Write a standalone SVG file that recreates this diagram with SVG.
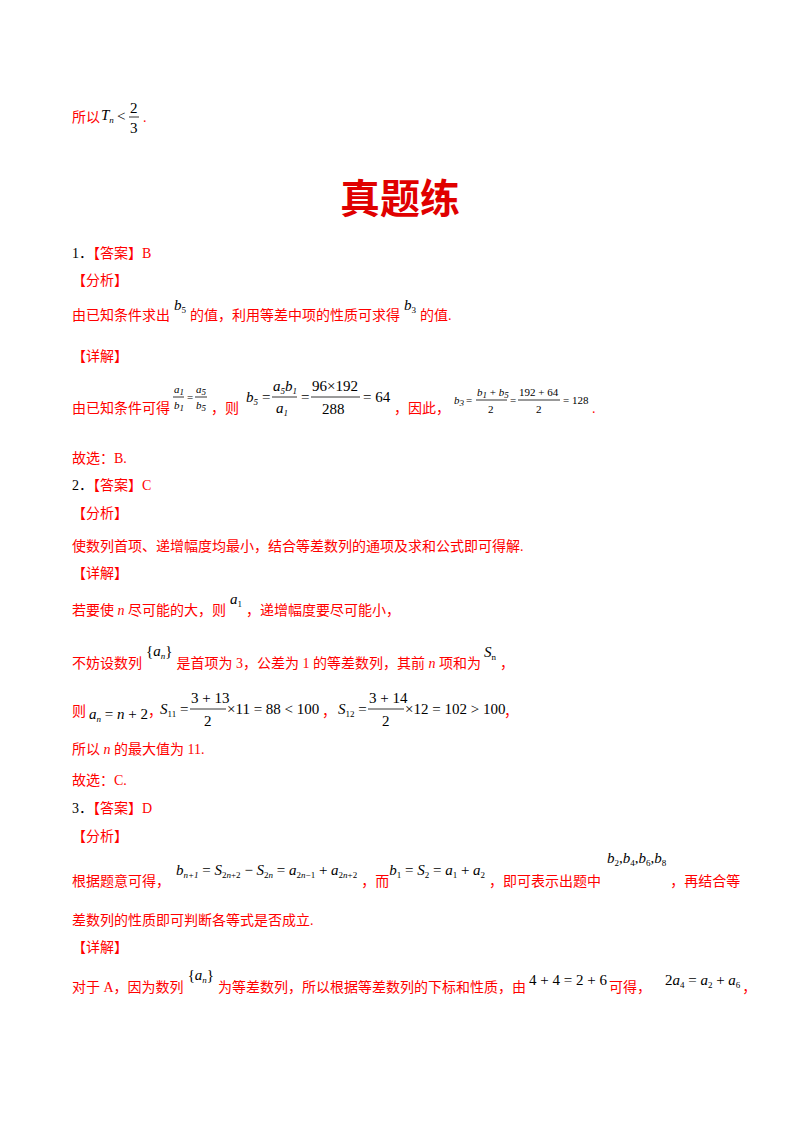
<svg xmlns="http://www.w3.org/2000/svg" width="800" height="1132" viewBox="0 0 800 1132">
<style>
text{font-family:"Liberation Serif","Noto Sans CJK SC",serif;font-size:14px}
.r{fill:#ff0000}
.k{fill:#000}
.m{fill:#000;font-family:"Liberation Serif",serif;font-size:15px}
.i{font-style:italic}
.n{font-style:normal}
.s{font-size:9px}
.t{fill:#e00000;font-size:40px;font-weight:bold}
line{stroke:#000;stroke-width:0.8}
</style>
<rect width="800" height="1132" fill="#fff"/>
<text x="72" y="122" class="r">所以</text>
<text x="101" y="120" class="m i">T<tspan class="s" dy="3">n</tspan></text>
<text x="117" y="121" class="m">&lt;</text>
<text x="130" y="113" class="m">2</text><line x1="129" y1="117" x2="139" y2="117"/><text x="130" y="133" class="m">3</text>
<text x="143" y="122" class="r">.</text>
<text x="400" y="213" class="t" text-anchor="middle">真题练</text>
<text x="72" y="258" class="k">1．<tspan class="r">【答案】B</tspan></text>
<text x="72" y="285" class="r">【分析】</text>
<text x="72" y="320" class="r">由已知条件求出<tspan class="m i" dx="4" dy="-10">b</tspan><tspan class="m s" dy="3">5</tspan><tspan dx="4" dy="7">的值，利用等差中项的性质可求得</tspan><tspan class="m i" dx="4" dy="-10">b</tspan><tspan class="m s" dy="3">3</tspan><tspan dx="4" dy="7">的值.</tspan></text>
<text x="72" y="361" class="r">【详解】</text>
<text x="72" y="413" class="r">由已知条件可得</text>
<text x="174" y="393" class="m i" style="font-size:11px">a<tspan class="s" dy="2">1</tspan></text><line x1="173" y1="397" x2="184" y2="397"/><text x="174" y="409" class="m i" style="font-size:11px">b<tspan class="s" dy="2">1</tspan></text>
<text x="187" y="401" class="m" style="font-size:11px">=</text>
<text x="196" y="393" class="m i" style="font-size:11px">a<tspan class="s" dy="2">5</tspan></text><line x1="195" y1="397" x2="207" y2="397"/><text x="196" y="409" class="m i" style="font-size:11px">b<tspan class="s" dy="2">5</tspan></text>
<text x="211" y="413" class="r">，则</text>
<text x="246" y="402" class="m i">b<tspan class="s" dy="3">5</tspan></text>
<text x="262" y="402" class="m">=</text>
<text x="273" y="391" class="m i">a<tspan class="s" dy="3">5</tspan><tspan dy="-3">b</tspan><tspan class="s" dy="3">1</tspan></text>
<line x1="272" y1="397" x2="297" y2="397"/>
<text x="276" y="413" class="m i">a<tspan class="s" dy="3">1</tspan></text>
<text x="301" y="402" class="m">=</text>
<text x="312" y="391" class="m">96×192</text><line x1="311" y1="397" x2="360" y2="397"/><text x="322" y="414" class="m">288</text>
<text x="363" y="402" class="m">= 64</text>
<text x="394" y="413" class="r">，因此，</text>
<text x="454" y="404" class="m i" style="font-size:11px">b<tspan class="s" dy="2">3</tspan></text>
<text x="466" y="404" class="m" style="font-size:11px">=</text>
<text x="477" y="396" class="m i" style="font-size:11px">b<tspan class="s" dy="2">1</tspan><tspan dy="-2" class="n"> + </tspan>b<tspan class="s" dy="2">5</tspan></text>
<line x1="476" y1="400" x2="507" y2="400"/><text x="488" y="413" class="m" style="font-size:11px">2</text>
<text x="510" y="404" class="m" style="font-size:11px">=</text>
<text x="519" y="396" class="m" style="font-size:11px">192 + 64</text><line x1="518" y1="400" x2="560" y2="400"/><text x="536" y="413" class="m" style="font-size:11px">2</text>
<text x="563" y="404" class="m" style="font-size:11px">= 128</text>
<text x="592" y="413" class="r">.</text>
<text x="72" y="463" class="r">故选：B.</text>
<text x="72" y="490" class="k">2．<tspan class="r">【答案】C</tspan></text>
<text x="72" y="518" class="r">【分析】</text>
<text x="72" y="551" class="r">使数列首项、递增幅度均最小，结合等差数列的通项及求和公式即可得解.</text>
<text x="72" y="578" class="r">【详解】</text>
<text x="72" y="615" class="r">若要使 <tspan class="i">n</tspan> 尽可能的大，则<tspan class="m i" dx="4" dy="-11">a</tspan><tspan class="m s" dy="3">1</tspan><tspan dx="4" dy="8">，递增幅度要尽可能小，</tspan></text>
<text x="72" y="668" class="r">不妨设数列<tspan class="m" dx="4" dy="-12">{</tspan><tspan class="m i">a</tspan><tspan class="m s i" dy="3">n</tspan><tspan class="m" dy="-3">}</tspan><tspan dx="4" dy="12">是首项为 3，公差为 1 的等差数列，其前 </tspan><tspan class="i">n</tspan><tspan> 项和为</tspan><tspan class="m i" dx="3" dy="-11">S</tspan><tspan class="m s" dy="3">n</tspan><tspan dx="4" dy="8">，</tspan></text>
<text x="72" y="716" class="r">则<tspan class="m i" dx="3" dy="3">a</tspan><tspan class="m s i" dy="3">n</tspan><tspan class="m" dy="-3"> = </tspan><tspan class="m i">n</tspan><tspan class="m"> + 2</tspan><tspan dy="-3">，</tspan></text>
<text x="160" y="714" class="m i">S<tspan class="s n" dy="3">11</tspan><tspan dy="-3" class="n"> =</tspan></text>
<text x="191" y="703" class="m">3 + 13</text><line x1="190" y1="709" x2="226" y2="709"/><text x="204" y="726" class="m">2</text>
<text x="227" y="714" class="m">×11 = 88 &lt; 100</text>
<text x="322" y="716" class="r">，</text>
<text x="338" y="714" class="m i">S<tspan class="s n" dy="3">12</tspan><tspan dy="-3" class="n"> =</tspan></text>
<text x="369" y="703" class="m">3 + 14</text><line x1="368" y1="709" x2="404" y2="709"/><text x="382" y="726" class="m">2</text>
<text x="405" y="714" class="m">×12 = 102 &gt; 100</text>
<text x="504" y="716" class="r">，</text>
<text x="72" y="754" class="r">所以 <tspan class="i">n</tspan> 的最大值为 11.</text>
<text x="72" y="785" class="r">故选：C.</text>
<text x="72" y="813" class="k">3．<tspan class="r">【答案】D</tspan></text>
<text x="72" y="841" class="r">【分析】</text>
<text x="72" y="886" class="r">根据题意可得，<tspan class="m i" dx="6" dy="-11">b</tspan><tspan class="m s i" dy="3">n+1</tspan><tspan class="m" dy="-3"> = </tspan><tspan class="m i">S</tspan><tspan class="m s" dy="3">2<tspan class="i">n</tspan>+2</tspan><tspan class="m" dy="-3"> − </tspan><tspan class="m i">S</tspan><tspan class="m s" dy="3">2<tspan class="i">n</tspan></tspan><tspan class="m" dy="-3"> = </tspan><tspan class="m i">a</tspan><tspan class="m s" dy="3">2<tspan class="i">n</tspan>−1</tspan><tspan class="m" dy="-3"> + </tspan><tspan class="m i">a</tspan><tspan class="m s" dy="3">2<tspan class="i">n</tspan>+2</tspan><tspan dx="4" dy="8">，而</tspan><tspan class="m i" dy="-11">b</tspan><tspan class="m s" dy="3">1</tspan><tspan class="m" dy="-3"> = </tspan><tspan class="m i">S</tspan><tspan class="m s" dy="3">2</tspan><tspan class="m" dy="-3"> = </tspan><tspan class="m i">a</tspan><tspan class="m s" dy="3">1</tspan><tspan class="m" dy="-3"> + </tspan><tspan class="m i">a</tspan><tspan class="m s" dy="3">2</tspan><tspan dx="4" dy="8">，即可表示出题中</tspan><tspan class="m i" dx="6" dy="-23">b</tspan><tspan class="m s" dy="3">2</tspan><tspan class="m" dy="-3">,</tspan><tspan class="m i">b</tspan><tspan class="m s" dy="3">4</tspan><tspan class="m" dy="-3">,</tspan><tspan class="m i">b</tspan><tspan class="m s" dy="3">6</tspan><tspan class="m" dy="-3">,</tspan><tspan class="m i">b</tspan><tspan class="m s" dy="3">8</tspan><tspan dx="4" dy="20">，再结合等</tspan></text>
<text x="72" y="925" class="r">差数列的性质即可判断各等式是否成立.</text>
<text x="72" y="952" class="r">【详解】</text>
<text x="72" y="992" class="r">对于 A，因为数列<tspan class="m" dx="4" dy="-12">{</tspan><tspan class="m i">a</tspan><tspan class="m s i" dy="3">n</tspan><tspan class="m" dy="-3">}</tspan><tspan dx="4" dy="12">为等差数列，所以根据等差数列的下标和性质，由</tspan><tspan class="m" dx="3" dy="-7">4 + 4 = 2 + 6</tspan><tspan dx="2" dy="7">可得，</tspan><tspan class="m" dx="14" dy="-7">2</tspan><tspan class="m i">a</tspan><tspan class="m s" dy="3">4</tspan><tspan class="m" dy="-3"> = </tspan><tspan class="m i">a</tspan><tspan class="m s" dy="3">2</tspan><tspan class="m" dy="-3"> + </tspan><tspan class="m i">a</tspan><tspan class="m s" dy="3">6</tspan><tspan dx="2" dy="4">，</tspan></text>
</svg>
